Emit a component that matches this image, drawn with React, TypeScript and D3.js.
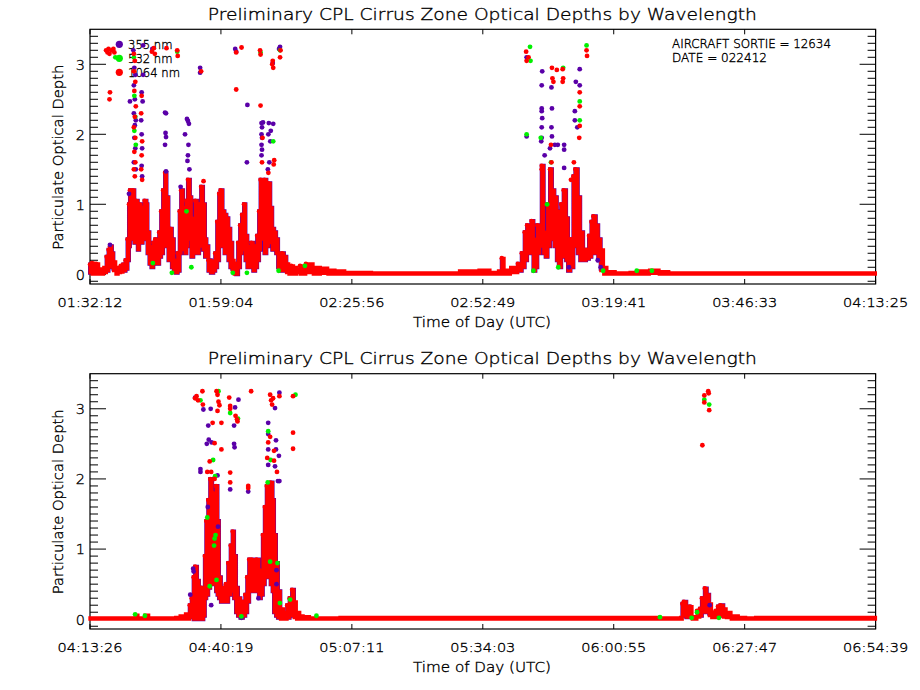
import { useEffect, useRef } from 'react';
import * as d3 from 'd3';

// time is minutes of day (UTC), values are particulate optical depth
const titleText = 'Preliminary CPL Cirrus Zone Optical Depths by Wavelength';
const wavelengths = ['355 nm', '532 nm', '1064 nm'];
const seriesColors = ['#5a00a8', '#00f000', '#ff0000'];
const yTickValues = [0, 1, 2, 3];
const topTickLabels = ['01:32:12', '01:59:04', '02:25:56', '02:52:49', '03:19:41', '03:46:33', '04:13:25'];
const bottomTickLabels = ['04:13:26', '04:40:19', '05:07:11', '05:34:03', '06:00:55', '06:27:47', '06:54:39'];
const topDomain: [number, number] = [92.2, 253.417];
const bottomDomain: [number, number] = [253.433, 414.65];
const yDomain: [number, number] = [-0.139, 3.5];

// dense band of overlapping points: [minute, low, high]
const topCore: [number, number, number][] = [
  [92.2, 0.02, 0.14], [92.6, 0.0, 0.16], [93.0, 0.03, 0.12], [93.5, 0.0, 0.15], [94.0, 0.0, 0.08],
  [94.5, 0.0, 0.06], [95.0, 0.02, 0.1], [95.6, 0.05, 0.25], [96.0, 0.1, 0.35], [96.3, 0.15, 0.4],
  [96.7, 0.1, 0.3], [97.0, 0.05, 0.18], [97.5, 0.0, 0.1], [98.0, 0.02, 0.08], [98.5, 0.03, 0.12],
  [99.0, 0.05, 0.14], [99.5, 0.08, 0.2], [99.9, 0.2, 0.5], [100.2, 0.4, 1.0], [100.4, 0.5, 1.2],
  [100.7, 0.6, 1.0], [101.0, 0.55, 1.2], [101.3, 0.45, 0.9], [101.6, 0.5, 1.05], [102.0, 0.35, 0.95],
  [102.3, 0.5, 1.0], [102.7, 0.45, 0.85], [103.0, 0.6, 0.95], [103.4, 0.5, 1.05], [103.8, 0.55, 1.0],
  [104.0, 0.3, 0.6], [104.4, 0.15, 0.4], [104.8, 0.1, 0.3], [105.2, 0.15, 0.45], [105.6, 0.2, 0.5],
  [106.0, 0.15, 0.4], [106.4, 0.25, 0.6], [106.8, 0.3, 0.9], [107.2, 0.4, 1.2], [107.6, 0.5, 1.45],
  [107.9, 0.4, 1.1], [108.3, 0.2, 0.6], [108.7, 0.25, 0.65], [109.0, 0.1, 0.5], [109.4, 0.05, 0.2],
  [109.8, 0.02, 0.15], [110.2, 0.05, 0.3], [110.6, 0.3, 0.9], [110.9, 0.45, 1.2], [111.3, 0.35, 0.95],
  [111.7, 0.3, 0.9], [112.0, 0.4, 1.05], [112.3, 0.6, 1.35], [112.7, 0.5, 1.1], [113.0, 0.25, 0.8],
  [113.4, 0.3, 0.6], [113.8, 0.35, 1.05], [114.2, 0.3, 0.7], [114.6, 0.4, 1.0], [115.0, 0.5, 1.25],
  [115.4, 0.35, 1.0], [115.8, 0.25, 0.5], [116.1, 0.3, 0.4], [116.5, 0.05, 0.2], [117.0, 0.02, 0.15],
  [117.5, 0.05, 0.18], [117.9, 0.1, 0.3], [118.3, 0.2, 0.75], [118.7, 0.4, 1.15], [119.0, 0.5, 1.2],
  [119.4, 0.4, 0.9], [119.8, 0.3, 0.85], [120.2, 0.35, 0.8], [120.6, 0.2, 0.65], [121.0, 0.1, 0.45],
  [121.4, 0.05, 0.2], [121.8, 0.0, 0.12], [122.2, 0.0, 0.15], [122.6, 0.1, 0.45], [123.0, 0.3, 0.7],
  [123.4, 0.5, 0.85], [123.8, 0.35, 1.0], [124.1, 0.2, 0.55], [124.5, 0.1, 0.4], [124.9, 0.1, 0.3],
  [125.3, 0.15, 0.45], [125.7, 0.05, 0.35], [126.1, 0.1, 0.4], [126.5, 0.2, 0.55], [126.9, 0.35, 0.9],
  [127.2, 0.55, 1.35], [127.6, 0.5, 1.2], [128.0, 0.3, 1.35], [128.4, 0.4, 1.1], [128.8, 0.6, 1.3],
  [129.2, 0.45, 0.95], [129.6, 0.35, 0.65], [130.0, 0.4, 0.6], [130.4, 0.3, 0.5], [130.8, 0.1, 0.3],
  [131.2, 0.05, 0.2], [131.6, 0.08, 0.3], [132.0, 0.05, 0.25], [132.5, 0.02, 0.15], [133.0, 0.0, 0.1],
  [133.5, 0.02, 0.12], [134.0, 0.0, 0.1], [134.6, 0.02, 0.08], [135.3, 0.0, 0.12], [136.5, 0.02, 0.15],
  [138.0, 0.0, 0.1], [139.5, 0.01, 0.09], [141.0, 0.0, 0.06], [142.5, 0.0, 0.05], [144.5, 0.0, 0.03],
  [150.0, 0.0, 0.02], [160.0, 0.0, 0.02], [165.0, 0.0, 0.02], [168.0, 0.0, 0.05], [172.0, 0.0, 0.06],
  [174.3, 0.0, 0.03], [176.0, 0.0, 0.05], [176.7, 0.05, 0.23], [177.2, 0.0, 0.06], [178.5, 0.02, 0.1],
  [180.0, 0.05, 0.15], [180.8, 0.1, 0.3], [181.4, 0.2, 0.6], [181.9, 0.3, 0.7], [182.3, 0.35, 0.62],
  [182.8, 0.3, 0.76], [183.2, 0.05, 0.5], [183.6, 0.1, 0.45], [184.0, 0.3, 0.7], [184.5, 0.4, 0.65],
  [184.9, 0.5, 1.55], [185.3, 0.3, 0.6], [185.7, 0.25, 0.5], [186.1, 0.4, 1.0], [186.6, 0.5, 1.5],
  [187.0, 0.6, 1.2], [187.5, 0.4, 1.1], [188.0, 0.2, 0.9], [188.4, 0.1, 0.75], [188.9, 0.3, 1.0],
  [189.4, 0.25, 1.2], [189.9, 0.2, 0.8], [190.3, 0.05, 0.45], [190.8, 0.1, 0.5], [191.4, 0.45, 1.4],
  [191.8, 0.4, 1.5], [192.3, 0.3, 1.1], [192.8, 0.2, 0.6], [193.4, 0.2, 0.3], [194.0, 0.22, 0.35],
  [194.6, 0.25, 0.55], [195.1, 0.3, 0.75], [195.5, 0.35, 0.83], [196.0, 0.3, 0.7], [196.5, 0.2, 0.5],
  [197.0, 0.05, 0.35], [197.6, 0.0, 0.1], [198.3, 0.0, 0.04], [200.0, 0.0, 0.02], [203.0, 0.0, 0.03],
  [204.5, 0.0, 0.05], [207.0, 0.01, 0.06], [209.0, 0.0, 0.04], [211.0, 0.0, 0.02], [253.4, 0.0, 0.02],
];

const top355: [number, number][] = [
  [96.3, 0.42], [100.4, 2.47], [101.1, 3.2], [101.3, 2.95], [101.5, 2.85], [101.2, 2.7], [101.4, 2.5],
  [101.2, 2.3], [101.6, 2.2], [101.4, 2.13], [101.3, 1.95], [101.5, 1.8], [101.2, 1.6], [101.6, 1.5],
  [102.8, 2.6], [103.0, 2.47], [102.7, 2.2], [102.8, 2.0], [102.9, 1.8], [102.8, 1.55], [102.9, 1.4],
  [103.1, 3.27], [103.1, 2.85], [105.0, 3.22], [107.8, 2.3], [107.6, 2.31], [107.7, 2.02], [107.8, 1.96],
  [107.6, 1.85], [107.8, 1.47], [112.1, 2.22], [112.3, 2.19], [112.5, 2.15], [111.7, 2.0], [112.4, 1.85],
  [112.3, 1.7], [112.2, 1.62], [112.6, 1.5], [114.8, 2.95], [114.8, 2.88], [122.0, 3.22], [122.2, 3.18],
  [124.5, 2.42], [124.4, 1.6], [127.4, 2.16], [127.7, 2.17], [127.5, 2.1], [127.4, 2.0], [127.5, 1.95],
  [127.4, 1.85], [127.5, 1.78], [127.4, 1.7], [128.9, 2.16], [129.8, 2.15], [129.3, 2.05], [128.8, 2.0],
  [129.2, 1.9], [129.0, 1.6], [128.7, 1.5], [131.0, 3.22], [131.2, 3.25], [129.7, 3.02], [100.2, 1.15],
  [110.8, 1.25], [181.8, 3.1], [185.0, 2.9], [184.9, 2.7], [184.9, 2.37], [184.9, 2.33], [185.0, 2.23],
  [184.9, 2.1], [184.9, 1.95], [184.8, 1.9], [181.8, 1.97], [186.9, 2.67], [187.0, 2.37], [186.9, 2.1],
  [187.0, 1.97], [187.6, 1.85], [189.5, 1.85], [189.5, 1.78], [189.5, 1.52], [191.9, 2.75], [192.7, 2.93],
  [192.7, 2.7], [191.7, 2.33], [191.7, 2.2], [192.2, 2.1], [186.6, 1.8], [188.2, 1.85], [185.5, 1.7],
  [190.5, 0.1], [196.4, 0.2], [197.0, 0.1],
];

const top532: [number, number][] = [
  [101.3, 2.55], [101.5, 2.25], [101.3, 2.05], [101.6, 1.85], [101.2, 3.1], [105.1, 0.16], [109.0, 0.02],
  [110.1, 3.18], [112.0, 0.9], [121.5, 0.02], [124.4, 0.02], [127.2, 3.17], [131.2, 3.2], [129.8, 1.9],
  [136.3, 0.12], [97.4, 3.1], [113.0, 0.1], [130.9, 0.05], [182.5, 3.25], [182.6, 3.05], [181.8, 2.0],
  [184.7, 1.95], [186.8, 1.6], [188.3, 0.1], [189.3, 2.95], [192.7, 2.47], [192.7, 2.2], [194.1, 3.27],
  [197.5, 0.05], [204.4, 0.05], [207.5, 0.05], [183.2, 0.05], [186.0, 1.0],
];

const top1064: [number, number][] = [
  [95.5, 3.2], [95.8, 3.17], [96.0, 3.22], [96.2, 3.15], [96.6, 3.2], [97.0, 3.22], [97.2, 3.17],
  [96.3, 2.6], [96.2, 2.5], [101.2, 3.15], [101.4, 3.05], [101.2, 2.9], [101.5, 2.75], [101.3, 2.62],
  [101.6, 2.4], [101.4, 2.25], [101.2, 2.1], [101.5, 1.95], [101.3, 1.75], [101.5, 1.6], [101.2, 1.5],
  [101.4, 1.4], [102.8, 2.55], [102.7, 2.3], [102.9, 1.9], [102.8, 1.7], [102.7, 1.5], [102.9, 1.35],
  [104.9, 3.18], [105.3, 3.23], [105.5, 3.15], [107.9, 3.23], [110.1, 3.2], [110.2, 3.12], [115.0, 2.9],
  [115.5, 1.33], [122.2, 3.17], [123.3, 3.24], [122.2, 2.64], [127.2, 2.41], [127.1, 3.2], [127.2, 3.14],
  [129.6, 3.0], [129.8, 2.95], [129.7, 3.05], [131.2, 3.1], [131.3, 3.2], [130.0, 1.63], [129.9, 1.57],
  [127.6, 1.95], [127.5, 1.6], [128.8, 1.45], [181.7, 3.18], [181.8, 3.05], [182.2, 3.1], [187.0, 2.95],
  [187.1, 2.8], [187.3, 2.75], [188.0, 2.92], [189.2, 2.93], [189.3, 2.8], [189.2, 2.75], [192.7, 2.6],
  [192.7, 2.4], [192.7, 2.12], [192.6, 1.95], [194.1, 3.2], [194.2, 3.12], [186.8, 1.85], [186.9, 1.6],
  [184.9, 1.5], [190.9, 1.35], [191.5, 1.6],
];

const bottomCore: [number, number, number][] = [
  [253.4, 0.0, 0.02], [262.0, 0.0, 0.02], [262.7, 0.0, 0.06], [263.3, 0.0, 0.02], [264.7, 0.0, 0.06],
  [265.5, 0.0, 0.02], [271.0, 0.0, 0.03], [271.9, 0.0, 0.05], [273.0, 0.0, 0.08], [273.9, 0.03, 0.2],
  [274.3, 0.05, 0.3], [274.7, 0.0, 0.6], [275.0, 0.05, 0.75], [275.4, 0.0, 0.55], [275.8, 0.05, 0.4],
  [276.3, 0.0, 0.45], [276.7, 0.05, 0.35], [277.0, 0.3, 0.9], [277.3, 0.35, 1.4], [277.7, 0.45, 1.7],
  [278.1, 0.5, 2.0], [278.5, 0.6, 1.8], [278.9, 0.5, 1.6], [279.3, 0.4, 1.9], [279.6, 0.35, 1.4],
  [279.9, 0.3, 0.6], [280.3, 0.25, 0.45], [280.8, 0.3, 0.45], [281.3, 0.25, 0.5], [281.8, 0.35, 0.8],
  [282.3, 0.4, 1.05], [282.7, 0.5, 1.25], [283.0, 0.3, 0.9], [283.4, 0.1, 0.45], [283.8, 0.05, 0.3],
  [284.3, 0.02, 0.15], [284.8, 0.05, 0.25], [285.3, 0.1, 0.35], [285.7, 0.25, 0.6], [286.1, 0.4, 0.85],
  [286.6, 0.45, 0.85], [287.1, 0.4, 0.8], [287.6, 0.5, 0.85], [288.1, 0.3, 0.7], [288.5, 0.35, 0.6],
  [288.9, 0.5, 1.2], [289.3, 0.6, 1.6], [289.7, 0.7, 1.9], [290.1, 0.6, 1.75], [290.5, 0.5, 1.95],
  [290.9, 0.4, 1.7], [291.2, 0.1, 1.2], [291.6, 0.05, 0.8], [292.0, 0.02, 0.4], [292.5, 0.0, 0.15],
  [293.2, 0.0, 0.1], [293.9, 0.02, 0.2], [294.4, 0.05, 0.3], [294.9, 0.05, 0.42], [295.3, 0.02, 0.25],
  [295.8, 0.0, 0.1], [296.5, 0.0, 0.05], [297.2, 0.0, 0.04], [298.5, 0.0, 0.02], [304.7, 0.0, 0.03],
  [314.0, 0.0, 0.03], [370.4, 0.0, 0.02], [374.6, 0.0, 0.03], [375.0, 0.05, 0.22], [375.3, 0.05, 0.25],
  [375.8, 0.03, 0.18], [376.5, 0.05, 0.18], [377.0, 0.0, 0.04], [377.5, 0.0, 0.03], [378.0, 0.03, 0.12],
  [378.6, 0.05, 0.15], [379.0, 0.1, 0.3], [379.6, 0.12, 0.44], [380.0, 0.1, 0.35], [380.5, 0.05, 0.22],
  [381.0, 0.02, 0.1], [381.8, 0.02, 0.12], [382.3, 0.05, 0.18], [382.8, 0.05, 0.2], [383.4, 0.03, 0.15],
  [384.0, 0.02, 0.1], [385.0, 0.0, 0.05], [386.5, 0.0, 0.03], [388.0, 0.0, 0.02], [390.0, 0.0, 0.03],
  [414.65, 0.0, 0.02],
];

const bottom355: [number, number][] = [
  [275.0, 3.16], [276.7, 2.99], [277.7, 2.76], [283.0, 2.76], [277.4, 2.5], [277.8, 2.56], [278.4, 2.52],
  [283.0, 2.5], [283.1, 2.45], [276.1, 2.1], [276.1, 2.14], [282.2, 1.85], [285.9, 1.82], [290.0, 2.8],
  [290.0, 2.64], [291.6, 2.55], [290.0, 2.42], [292.2, 2.33], [291.6, 2.42], [290.0, 2.2], [291.4, 2.18],
  [292.0, 1.97], [292.3, 1.97], [283.9, 3.13], [283.2, 3.02], [292.3, 3.23], [291.4, 3.01], [278.2, 3.0],
  [274.6, 0.72], [274.7, 0.68], [277.6, 1.6], [279.7, 1.32], [291.7, 0.7], [291.7, 0.5], [279.6, 2.05],
  [274.0, 0.35], [284.5, 0.02], [380.6, 0.2], [278.3, 0.2], [288.0, 0.3],
];

const bottom532: [number, number][] = [
  [262.7, 0.07], [264.7, 0.05], [276.1, 3.12], [279.8, 3.25], [282.2, 2.94], [283.8, 2.86], [279.1, 2.04],
  [278.7, 2.27], [279.0, 1.15], [279.2, 1.2], [278.9, 1.05], [278.0, 0.47], [279.4, 0.56], [290.0, 2.68],
  [290.5, 2.27], [290.4, 0.82], [284.5, 0.04], [292.4, 0.23], [295.6, 3.2], [294.5, 0.28], [299.9, 0.05],
  [277.5, 1.45], [289.9, 1.95], [379.5, 3.13], [380.5, 3.06], [376.9, 0.02], [378.0, 0.1], [382.5, 0.02],
  [370.4, 0.03], [291.9, 0.8],
];

const bottom1064: [number, number][] = [
  [275.0, 3.15], [275.3, 3.18], [275.6, 3.12], [276.5, 3.25], [276.6, 3.06], [279.4, 3.25], [279.6, 3.2],
  [279.8, 3.1], [280.0, 3.05], [279.6, 2.97], [282.0, 3.16], [282.2, 3.04], [282.2, 3.0], [283.3, 2.9],
  [283.6, 2.85], [283.7, 2.82], [286.5, 3.25], [290.4, 3.2], [290.6, 3.12], [290.8, 3.06], [291.0, 3.15],
  [292.3, 3.18], [295.1, 3.18], [295.1, 2.66], [295.1, 2.43], [278.6, 2.8], [279.0, 2.51], [280.4, 2.42],
  [282.2, 2.09], [282.2, 1.95], [285.9, 1.9], [285.9, 1.87], [290.0, 2.52], [291.2, 2.4], [291.2, 2.26],
  [290.4, 2.6], [289.8, 2.3], [280.4, 2.8], [278.0, 2.25], [278.3, 2.1], [277.5, 2.1], [279.0, 2.0],
  [291.8, 2.1], [380.3, 3.25], [380.4, 3.22], [379.5, 3.19], [379.5, 3.09], [380.5, 2.98], [379.1, 2.48],
];

const sortieText = ['AIRCRAFT SORTIE = 12634', 'DATE = 022412'];

const FONT = '"DejaVu Sans", "Liberation Sans", sans-serif';
const LEFT = 90;
const RIGHT = 875.6;

interface Panel {
  top: number;
  bottom: number;
  domain: [number, number];
  tickLabels: string[];
  core: [number, number, number][];
  points: [number, number][][];
  legend: boolean;
}

const panels: Panel[] = [
  { top: 29.3, bottom: 284, domain: topDomain, tickLabels: topTickLabels, core: topCore, points: [top355, top532, top1064], legend: true },
  { top: 373.7, bottom: 629, domain: bottomDomain, tickLabels: bottomTickLabels, core: bottomCore, points: [bottom355, bottom532, bottom1064], legend: false },
];

export default function App() {
  const svgRef = useRef<SVGSVGElement>(null);

  useEffect(() => {
    if (!svgRef.current) return;
    const svg = d3.select(svgRef.current);
    svg.selectAll('*').remove();

    // thin vector-style lettering
    const label = (sel: d3.Selection<SVGTextElement, unknown, null, undefined>, size: number) =>
      sel.style('font-family', FONT)
        .style('font-weight', 200)
        .style('font-size', `${size}px`)
        .attr('fill', '#000')
        .attr('stroke', '#000')
        .attr('stroke-width', 0.35);

    panels.forEach(p => {
      const x = d3.scaleLinear().domain(p.domain).range([LEFT, RIGHT]);
      const y = d3.scaleLinear().domain(yDomain).range([p.bottom, p.top]);
      const g = svg.append('g');

      label(g.append('text'), 16)
        .attr('x', (LEFT + RIGHT) / 2 - 0.5)
        .attr('y', p.top - 9.3)
        .attr('text-anchor', 'middle')
        .attr('textLength', 549)
        .attr('lengthAdjust', 'spacingAndGlyphs')
        .text(titleText);

      g.append('rect')
        .attr('x', LEFT).attr('y', p.top)
        .attr('width', RIGHT - LEFT).attr('height', p.bottom - p.top)
        .attr('fill', 'none').attr('stroke', '#000').attr('stroke-width', 1.2);

      // y ticks, major and minor, on both sides
      const minor = d3.range(-1, 36).map(i => i / 10).filter(v => v > yDomain[0] && v < yDomain[1]);
      minor.forEach(v => {
        const major = Math.abs(v - Math.round(v)) < 1e-6;
        const len = major ? 16 : 8;
        g.append('line').attr('x1', LEFT).attr('x2', LEFT + len)
          .attr('y1', y(v)).attr('y2', y(v)).attr('stroke', '#000');
        g.append('line').attr('x1', RIGHT).attr('x2', RIGHT - len)
          .attr('y1', y(v)).attr('y2', y(v)).attr('stroke', '#000');
      });
      yTickValues.forEach(v => {
        label(g.append('text'), 14.5)
          .attr('x', LEFT - 5).attr('y', y(v) + 5.3)
          .attr('text-anchor', 'end')
          .text(String(v));
      });

      // x ticks
      const step = (p.domain[1] - p.domain[0]) / (p.tickLabels.length - 1);
      p.tickLabels.forEach((t, i) => {
        const tx = x(p.domain[0] + i * step);
        g.append('line').attr('x1', tx).attr('x2', tx)
          .attr('y1', p.bottom).attr('y2', p.bottom - 5).attr('stroke', '#000');
        g.append('line').attr('x1', tx).attr('x2', tx)
          .attr('y1', p.top).attr('y2', p.top + 5).attr('stroke', '#000');
        label(g.append('text'), 13)
          .attr('x', tx).attr('y', p.bottom + 23)
          .attr('text-anchor', 'middle')
          .attr('textLength', 65).attr('lengthAdjust', 'spacingAndGlyphs')
          .text(t);
      });

      label(g.append('text'), 13.5)
        .attr('x', 482).attr('y', p.bottom + 43)
        .attr('text-anchor', 'middle')
        .attr('textLength', 138).attr('lengthAdjust', 'spacingAndGlyphs')
        .text('Time of Day (UTC)');

      label(g.append('text'), 13.5)
        .attr('transform', `translate(63,${(p.top + p.bottom) / 2 + 0.5}) rotate(-90)`)
        .attr('text-anchor', 'middle')
        .attr('textLength', 185).attr('lengthAdjust', 'spacingAndGlyphs')
        .text('Particulate Optical Depth');

      if (p.legend) {
        wavelengths.forEach((w, i) => {
          const ly = p.top + 15 + i * 14;
          g.append('circle').attr('cx', 119.3).attr('cy', ly).attr('r', 3.6).attr('fill', seriesColors[i]);
          label(g.append('text'), 12)
            .attr('x', 128).attr('y', ly + 4.2)
            .attr('textLength', i === 2 ? 52 : 44.5).attr('lengthAdjust', 'spacingAndGlyphs')
            .text(w);
        });
        sortieText.forEach((s, i) => {
          label(g.append('text'), 11.5)
            .attr('x', 672).attr('y', p.top + 19 + i * 13.4)
            .attr('textLength', i === 0 ? 159 : 95).attr('lengthAdjust', 'spacingAndGlyphs')
            .text(s);
        });
      }

      // dense band: 355 nm fringes under the 1064 nm points
      const area = d3.area<[number, number, number]>()
        .curve(d3.curveStepAfter)
        .x(d => x(d[0]))
        .y0(d => y(d[1]))
        .y1(d => y(d[2]));
      g.append('path')
        .datum(p.core)
        .attr('d', area.defined(d => d[2] > 0.12))
        .attr('fill', seriesColors[0])
        .attr('stroke', seriesColors[0])
        .attr('stroke-width', 4);
      g.append('path')
        .datum(p.core)
        .attr('d', area.defined(() => true))
        .attr('fill', seriesColors[2])
        .attr('stroke', seriesColors[2])
        .attr('stroke-width', 3);

      g.append('g')
        .selectAll('circle')
        .data(p.core.filter(d => d[2] > 0.1))
        .enter()
        .append('circle')
        .attr('cx', d => x(d[0]))
        .attr('cy', d => y(d[2]))
        .attr('r', 2.3)
        .attr('fill', seriesColors[2]);

      p.points.forEach((pts, i) => {
        g.append('g')
          .selectAll('circle')
          .data(pts)
          .enter()
          .append('circle')
          .attr('cx', d => x(d[0]))
          .attr('cy', d => y(d[1]))
          .attr('r', 2.4)
          .attr('fill', seriesColors[i]);
      });
    });
  }, []);

  return (
    <svg
      ref={svgRef}
      width={920}
      height={690}
      style={{ position: 'absolute', left: 0, top: 0, background: '#fff' }}
    />
  );
}
